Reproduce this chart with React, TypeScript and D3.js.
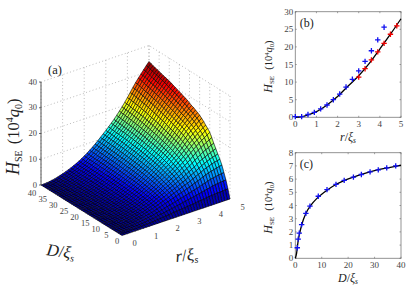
import React from "react";
import * as d3 from "d3";

const serif = "'Liberation Serif', serif";
const inkGray = "#444";

// surface (a): H_SE estimated by eye from the outline and the colour bands,
// one row per D (0..40), one column per r (0..5 in steps of 1/8)
const surfaceR = d3.range(41).map((i) => i * 0.125);
const surfaceD = d3.range(41);
const surfaceH: number[][] = [
  [0,0,0,0,0,0,0,0,0,0,0,0,0,0,0,0,0,0,0,0,0,0,0,0,0,0,0,0,0,0,0,0,0,0,0,0,0,0,0,0,0],
  [0,0,0,0,.1,.1,.1,.2,.2,.3,.4,.4,.5,.6,.7,.8,.9,1,1.1,1.2,1.4,1.5,1.6,1.7,1.8,1.9,2,2.1,2.3,2.4,2.5,2.6,2.8,2.9,3,3.1,3.2,3.2,3.3,3.4,3.4],
  [0,0,0,.1,.1,.2,.3,.3,.4,.5,.6,.8,.9,1,1.2,1.4,1.6,1.8,2,2.2,2.4,2.6,2.8,3,3.3,3.4,3.7,3.9,4.1,4.3,4.6,4.8,5,5.3,5.5,5.8,5.9,6.1,6.2,6.3,6.4],
  [0,0,0,.1,.2,.2,.3,.5,.6,.7,.9,1,1.2,1.4,1.6,1.9,2.1,2.4,2.7,3,3.2,3.5,3.8,4.1,4.4,4.7,5,5.3,5.6,5.9,6.2,6.5,6.9,7.2,7.6,7.9,8.1,8.3,8.5,8.6,8.8],
  [0,0,0,.1,.2,.3,.4,.6,.7,.9,1.1,1.3,1.5,1.7,2,2.3,2.6,3,3.3,3.7,4,4.4,4.8,5.1,5.5,5.8,6.2,6.6,6.9,7.4,7.8,8.2,8.6,9.1,9.5,9.9,10.2,10.5,10.7,11,11.2],
  [0,0,.1,.1,.2,.3,.5,.6,.8,1,1.2,1.4,1.7,2,2.3,2.6,3,3.3,3.8,4.1,4.5,4.9,5.4,5.8,6.2,6.6,7.1,7.5,7.9,8.4,8.9,9.4,9.9,10.4,11,11.4,11.8,12.2,12.5,12.7,13],
  [0,0,.1,.1,.2,.3,.5,.7,.9,1.1,1.3,1.6,1.8,2.1,2.5,2.8,3.2,3.6,4.1,4.5,4.9,5.4,5.9,6.3,6.8,7.2,7.7,8.2,8.7,9.3,9.8,10.3,10.9,11.5,12.1,12.6,13.1,13.5,13.9,14.2,14.5],
  [0,0,.1,.1,.2,.4,.5,.7,.9,1.2,1.4,1.6,2,2.3,2.6,3,3.4,3.8,4.3,4.8,5.3,5.7,6.3,6.8,7.3,7.8,8.3,8.8,9.4,10,10.6,11.2,11.8,12.5,13.2,13.8,14.3,14.8,15.2,15.7,16.1],
  [0,0,.1,.1,.3,.4,.6,.8,1,1.2,1.5,1.7,2,2.4,2.8,3.1,3.6,4,4.5,5,5.5,6.1,6.6,7.2,7.7,8.3,8.9,9.4,10.1,10.7,11.4,12.1,12.8,13.6,14.3,15,15.7,16.2,16.7,17.3,17.7],
  [0,0,.1,.1,.3,.4,.6,.8,1,1.3,1.5,1.8,2.1,2.5,2.9,3.3,3.7,4.2,4.7,5.2,5.8,6.3,6.9,7.5,8.1,8.7,9.4,10,10.7,11.4,12.1,12.9,13.7,14.6,15.5,16.3,17,17.6,18.2,18.9,19.4],
  [0,0,.1,.1,.3,.4,.6,.8,1,1.3,1.6,1.8,2.2,2.5,2.9,3.4,3.8,4.3,4.9,5.4,6,6.6,7.2,7.8,8.5,9.1,9.8,10.5,11.2,12,12.8,13.7,14.6,15.5,16.5,17.3,18.1,18.9,19.6,20.3,21],
  [0,0,.1,.1,.3,.4,.6,.8,1.1,1.3,1.6,1.9,2.3,2.6,3,3.5,3.9,4.4,5,5.6,6.2,6.8,7.4,8.1,8.8,9.4,10.1,10.8,11.6,12.5,13.3,14.2,15.1,16.2,17.2,18.1,18.9,19.7,20.5,21.3,22],
  [0,0,.1,.1,.3,.4,.7,.9,1.1,1.4,1.7,2,2.3,2.7,3.1,3.6,4.1,4.6,5.1,5.7,6.3,7,7.7,8.4,9,9.7,10.5,11.2,12,12.9,13.8,14.7,15.7,16.7,17.8,18.7,19.6,20.5,21.3,22.1,22.8],
  [0,0,.1,.1,.3,.4,.7,.9,1.1,1.4,1.7,2,2.4,2.8,3.2,3.7,4.2,4.7,5.3,5.9,6.5,7.2,7.9,8.6,9.3,10,10.8,11.6,12.4,13.3,14.2,15.2,16.2,17.3,18.4,19.4,20.3,21.2,22,22.9,23.7],
  [0,0,.1,.2,.3,.5,.7,.9,1.1,1.5,1.8,2.1,2.4,2.8,3.3,3.7,4.3,4.8,5.4,6,6.7,7.4,8.1,8.8,9.6,10.3,11.1,11.9,12.8,13.7,14.6,15.6,16.7,17.9,19,20,21,21.9,22.8,23.7,24.5],
  [0,0,.1,.2,.3,.5,.7,.9,1.2,1.5,1.8,2.1,2.5,2.9,3.4,3.8,4.4,4.9,5.6,6.2,6.9,7.6,8.3,9.1,9.8,10.6,11.4,12.2,13.1,14.1,15,16.1,17.2,18.3,19.5,20.6,21.6,22.5,23.4,24.4,25.2],
  [0,0,.1,.2,.3,.5,.7,1,1.2,1.5,1.8,2.2,2.6,3,3.4,3.9,4.5,5,5.7,6.3,7,7.7,8.5,9.3,10,10.8,11.6,12.5,13.4,14.4,15.3,16.4,17.5,18.7,19.9,21,22,23,23.9,24.8,25.7],
  [0,0,.1,.2,.3,.5,.7,1,1.2,1.5,1.9,2.2,2.6,3,3.5,4,4.6,5.1,5.8,6.4,7.1,7.9,8.7,9.5,10.2,11,11.9,12.7,13.7,14.6,15.6,16.7,17.9,19,20.3,21.4,22.4,23.4,24.4,25.3,26.2],
  [0,0,.1,.2,.3,.5,.7,1,1.2,1.6,1.9,2.2,2.7,3.1,3.6,4.1,4.6,5.2,5.9,6.5,7.3,8,8.8,9.6,10.4,11.2,12.1,12.9,13.9,14.9,15.9,17,18.2,19.4,20.6,21.8,22.8,23.9,24.9,25.8,26.7],
  [0,0,.1,.2,.3,.5,.8,1,1.3,1.6,1.9,2.3,2.7,3.1,3.6,4.1,4.7,5.3,6,6.6,7.4,8.1,8.9,9.7,10.5,11.4,12.3,13.1,14.1,15.1,16.1,17.2,18.4,19.7,20.9,22,23.1,24.2,25.2,26.1,27],
  [0,0,.1,.2,.3,.5,.8,1,1.3,1.6,2,2.3,2.7,3.1,3.7,4.2,4.8,5.4,6,6.7,7.5,8.2,9,9.8,10.7,11.5,12.4,13.3,14.3,15.3,16.3,17.5,18.7,19.9,21.2,22.3,23.4,24.5,25.5,26.6,27.5],
  [0,0,.1,.2,.3,.5,.8,1,1.3,1.6,2,2.3,2.8,3.2,3.7,4.2,4.8,5.4,6.1,6.8,7.6,8.3,9.2,10,10.9,11.7,12.6,13.5,14.6,15.6,16.6,17.8,19,20.2,21.6,22.7,23.8,24.9,26,27,28],
  [0,0,.1,.2,.3,.5,.8,1,1.3,1.7,2,2.4,2.8,3.2,3.8,4.3,4.9,5.5,6.2,6.9,7.7,8.4,9.3,10.1,11,11.9,12.8,13.7,14.8,15.8,16.9,18,19.3,20.6,21.9,23,24.2,25.3,26.4,27.4,28.4],
  [0,0,.1,.2,.4,.5,.8,1.1,1.3,1.7,2,2.4,2.8,3.3,3.8,4.3,4.9,5.6,6.3,7,7.8,8.5,9.4,10.2,11.1,12,13,13.9,14.9,16,17.1,18.3,19.5,20.9,22.2,23.3,24.5,25.6,26.7,27.8,28.7],
  [0,0,.1,.2,.4,.5,.8,1.1,1.3,1.7,2,2.4,2.8,3.3,3.8,4.4,5,5.6,6.3,7,7.8,8.6,9.5,10.4,11.2,12.1,13.1,14,15.1,16.2,17.3,18.5,19.8,21.1,22.4,23.6,24.8,25.9,27,28.1,29.1],
  [0,0,.1,.2,.4,.5,.8,1.1,1.4,1.7,2.1,2.4,2.9,3.3,3.9,4.4,5,5.7,6.4,7.1,7.9,8.7,9.6,10.5,11.4,12.3,13.2,14.2,15.3,16.4,17.5,18.7,20,21.3,22.7,23.9,25.1,26.3,27.4,28.5,29.4],
  [0,0,.1,.2,.4,.5,.8,1.1,1.4,1.7,2.1,2.5,2.9,3.4,3.9,4.5,5.1,5.7,6.5,7.2,8,8.8,9.7,10.6,11.5,12.4,13.4,14.4,15.5,16.6,17.7,19,20.3,21.6,23,24.2,25.4,26.6,27.7,28.8,29.7],
  [0,0,.1,.2,.4,.6,.8,1.1,1.4,1.7,2.1,2.5,2.9,3.4,3.9,4.5,5.1,5.8,6.5,7.2,8.1,8.9,9.8,10.7,11.6,12.5,13.5,14.5,15.6,16.8,17.9,19.2,20.5,21.9,23.3,24.5,25.7,26.9,28,29.1,30.1],
  [0,0,.1,.2,.4,.6,.8,1.1,1.4,1.8,2.1,2.5,3,3.4,4,4.5,5.2,5.8,6.6,7.3,8.1,8.9,9.9,10.8,11.7,12.6,13.6,14.6,15.8,16.9,18.1,19.4,20.7,22.1,23.5,24.8,26,27.2,28.3,29.4,30.4],
  [0,0,.1,.2,.4,.6,.8,1.1,1.4,1.8,2.1,2.5,3,3.4,4,4.5,5.2,5.8,6.6,7.4,8.2,9,10,10.9,11.8,12.7,13.8,14.8,15.9,17.1,18.3,19.6,20.9,22.3,23.8,25,26.3,27.5,28.6,29.7,30.8],
  [0,0,.1,.2,.4,.6,.8,1.1,1.4,1.8,2.2,2.5,3,3.5,4,4.6,5.3,5.9,6.7,7.4,8.3,9.1,10,11,11.9,12.9,13.9,14.9,16,17.3,18.5,19.8,21.2,22.6,24,25.3,26.6,27.8,28.9,30.1,31.1],
  [0,0,.1,.2,.4,.6,.9,1.1,1.4,1.8,2.2,2.6,3,3.5,4.1,4.6,5.3,6,6.7,7.5,8.3,9.2,10.1,11.1,12,13,14,15,16.2,17.4,18.6,20,21.4,22.8,24.2,25.5,26.8,28,29.2,30.3,31.4],
  [0,0,.1,.2,.4,.6,.9,1.1,1.4,1.8,2.2,2.6,3.1,3.5,4.1,4.7,5.3,6,6.8,7.5,8.4,9.2,10.2,11.1,12.1,13.1,14.1,15.1,16.3,17.5,18.8,20.1,21.5,23,24.4,25.7,27,28.3,29.5,30.6,31.6],
  [0,0,.1,.2,.4,.6,.9,1.2,1.4,1.8,2.2,2.6,3.1,3.6,4.1,4.7,5.4,6,6.8,7.6,8.4,9.3,10.3,11.2,12.2,13.1,14.2,15.2,16.4,17.6,18.9,20.3,21.7,23.2,24.6,26,27.2,28.5,29.7,30.9,31.8],
  [0,0,.1,.2,.4,.6,.9,1.2,1.4,1.8,2.2,2.6,3.1,3.6,4.1,4.7,5.4,6.1,6.9,7.6,8.5,9.4,10.3,11.3,12.2,13.2,14.3,15.3,16.5,17.8,19,20.4,21.9,23.3,24.8,26.2,27.5,28.7,29.9,31.1,32.1],
  [0,0,.1,.2,.4,.6,.9,1.2,1.5,1.8,2.2,2.6,3.1,3.6,4.2,4.8,5.4,6.1,6.9,7.7,8.5,9.4,10.4,11.3,12.3,13.3,14.3,15.4,16.6,17.9,19.2,20.5,22,23.5,25,26.3,27.7,29,30.1,31.3,32.4],
  [0,0,.1,.2,.4,.6,.9,1.2,1.5,1.9,2.2,2.6,3.1,3.6,4.2,4.8,5.5,6.1,6.9,7.7,8.6,9.5,10.4,11.4,12.4,13.3,14.4,15.5,16.7,18,19.3,20.6,22.1,23.7,25.2,26.6,27.9,29.2,30.4,31.6,32.6],
  [0,0,.1,.2,.4,.6,.9,1.2,1.5,1.9,2.3,2.7,3.1,3.6,4.2,4.8,5.5,6.2,7,7.8,8.7,9.5,10.5,11.5,12.5,13.4,14.5,15.6,16.8,18.1,19.4,20.8,22.3,23.8,25.4,26.8,28.1,29.4,30.6,31.8,32.9],
  [0,0,.1,.2,.4,.6,.9,1.2,1.5,1.9,2.3,2.7,3.1,3.6,4.2,4.8,5.5,6.2,7,7.8,8.7,9.6,10.6,11.6,12.6,13.5,14.6,15.7,16.9,18.2,19.5,20.9,22.4,24,25.6,27,28.4,29.7,30.9,32.1,33.1],
  [0,0,.1,.2,.4,.6,.9,1.2,1.5,1.9,2.3,2.7,3.2,3.7,4.3,4.9,5.6,6.3,7.1,7.9,8.8,9.7,10.6,11.6,12.6,13.6,14.7,15.8,17,18.3,19.6,21,22.5,24.1,25.7,27.2,28.6,29.8,31.1,32.4,33.5],
  [0,0,.1,.2,.4,.6,.9,1.2,1.5,1.9,2.3,2.7,3.2,3.7,4.3,4.9,5.6,6.3,7.1,7.9,8.8,9.7,10.7,11.7,12.7,13.7,14.8,15.9,17.1,18.4,19.7,21.1,22.6,24.2,25.8,27.3,28.7,30,31.3,32.6,33.8],
];

// panel (b)
const bCurveR = [0, 0.3, 0.5, 1, 1.5, 2, 2.5, 3, 3.5, 4, 4.5, 5];
const bCurveH = [0, 0.2, 0.5, 1.6, 3.5, 5.9, 8.9, 11.8, 15.3, 19.4, 23.6, 28];
const bBlueR = [0, 0.3, 0.6, 0.9, 1.2, 1.5, 1.8, 2.1, 2.4, 2.7, 3.0, 3.3, 3.6, 3.9, 4.2];
const bBlueH = [0.2, 0.2, 0.8, 1.4, 2.4, 3.5, 5, 6.6, 8.6, 10.8, 13.2, 15.9, 18.9, 22, 25.6];
const bRedR = [3.0, 3.3, 3.6, 3.9, 4.2, 4.5, 4.8];
const bRedH = [11.4, 13.8, 16.3, 18.6, 21, 23.6, 26];

// panel (c)
const cCurveD = [0, 0.5, 1, 2, 3, 4, 6, 8, 10, 12, 15, 18, 22, 26, 30, 35, 40];
const cCurveH = [0, 0.4, 1.2, 2.2, 2.9, 3.4, 4.05, 4.5, 4.85, 5.15, 5.55, 5.85, 6.15, 6.42, 6.65, 6.85, 7.05];
const cBlueD = [0.76, 1.1, 1.5, 2.4, 4, 5.55, 8.7, 12, 15.4, 18.5, 22, 25, 28.3, 31.4, 34.6, 38];
const cBlueH = [0.8, 1.45, 1.9, 2.55, 3.4, 3.95, 4.7, 5.2, 5.6, 5.9, 6.15, 6.35, 6.55, 6.7, 6.85, 7.0];

const zTicks = [0, 10, 20, 30, 40];
const rTicks = [0, 1, 2, 3, 4, 5];
const dTicks = [0, 5, 10, 15, 20, 25, 30, 35, 40];

// oblique projection of the 3D box
const xFromR = d3.scaleLinear().domain([0, 5]).range([122, 230]);
const xFromD = d3.scaleLinear().domain([0, 40]).range([0, -81]);
const yFromR = d3.scaleLinear().domain([0, 5]).range([235.5, 199]);
const yFromD = d3.scaleLinear().domain([0, 40]).range([0, -50.5]);
const yFromZ = d3.scaleLinear().domain([0, 40]).range([0, -103]);
const project = (r: number, D: number, z: number): [number, number] => [
  xFromR(r) + xFromD(D),
  yFromR(r) + yFromD(D) + yFromZ(z),
];

const jet = d3
  .scaleLinear<string>()
  .domain([0, 0.125, 0.375, 0.625, 0.875, 1].map((t) => t * 33.8))
  .range(["#00008f", "#0000ff", "#00ffff", "#ffff00", "#ff0000", "#800000"]);

const line3d = d3.line();

const Cross = ({ x, y, color }: { x: number; y: number; color: string }) => (
  <path d={`M${x - 2.7},${y}H${x + 2.7}M${x},${y - 2.7}V${y + 2.7}`} stroke={color} strokeWidth={1.3} fill="none" />
);

const Surface = () => {
  const cells: React.ReactNode[] = [];
  for (let i = surfaceD.length - 2; i >= 0; i--) {
    for (let j = surfaceR.length - 2; j >= 0; j--) {
      const a = surfaceH[i][j];
      const b = surfaceH[i][j + 1];
      const c = surfaceH[i + 1][j + 1];
      const d = surfaceH[i + 1][j];
      const pts = [
        project(surfaceR[j], surfaceD[i], a),
        project(surfaceR[j + 1], surfaceD[i], b),
        project(surfaceR[j + 1], surfaceD[i + 1], c),
        project(surfaceR[j], surfaceD[i + 1], d),
      ];
      cells.push(
        <path
          key={`${i}-${j}`}
          d={line3d(pts) + "Z"}
          fill={jet((a + b + c + d) / 4)}
          stroke="#000"
          strokeWidth={0.7}
          strokeOpacity={0.85}
        />
      );
    }
  }
  return <g>{cells}</g>;
};

const Panel3D = () => {
  const grid = { stroke: "#aaa", strokeWidth: 0.8, strokeDasharray: "1 2.4", fill: "none" };
  return (
    <g fontFamily={serif}>
      {rTicks.map((r) => (
        <path key={r} d={line3d([project(r, 40, 0), project(r, 40, 40)]) as string} {...grid} />
      ))}
      {dTicks.map((D) => (
        <path key={D} d={line3d([project(5, D, 0), project(5, D, 40)]) as string} {...grid} />
      ))}
      {zTicks.map((z) => (
        <path key={z} d={line3d([project(0, 40, z), project(5, 40, z), project(5, 0, z)]) as string} {...grid} />
      ))}
      <Surface />
      <path d={line3d([project(0, 40, 0), project(0, 40, 40)]) as string} stroke={inkGray} strokeWidth={0.9} fill="none" />
      {zTicks.map((z) => {
        const [x, y] = project(0, 40, z);
        return (
          <g key={z}>
            <line x1={x - 2} x2={x} y1={y} y2={y} stroke={inkGray} strokeWidth={0.8} />
            <text x={x - 4} y={y + 2.5} fontSize={8.5} textAnchor="end" fill={inkGray}>{z}</text>
          </g>
        );
      })}
      {dTicks.map((D) => {
        const [x, y] = project(0, D, 0);
        return (
          <text key={D} x={x - 5 - (4 * D) / 40} y={y + 8.5 + (2.5 * D) / 40} fontSize={8.5} textAnchor="middle" fill={inkGray}>{D}</text>
        );
      })}
      {rTicks.map((r) => {
        const [x, y] = project(r, 0, 0);
        return (
          <text key={r} x={x + 12.5} y={y + 10.5} fontSize={8.5} textAnchor="middle" fill={inkGray}>{r}</text>
        );
      })}
      <text x={48} y={74} fontSize={12.5} fill="#222">(a)</text>
      <text transform="translate(19,175) rotate(-90)" fontSize={18} fill="#222">
        <tspan fontStyle="italic">H</tspan>
        <tspan fontSize={10} dy={3}>SE</tspan>
        <tspan dy={-3} dx={6} fontSize={16.5}>(10</tspan>
        <tspan fontSize={10} dy={-6}>4</tspan>
        <tspan fontSize={16.5} dy={6} fontStyle="italic">q</tspan>
        <tspan fontSize={10} dy={3}>0</tspan>
        <tspan fontSize={16.5} dy={-3}>)</tspan>
      </text>
      <text transform="translate(46,255) rotate(8)" fontSize={17} fill="#222">
        <tspan fontStyle="italic">D</tspan>
        <tspan>/</tspan>
        <tspan fontStyle="italic">ξ</tspan>
        <tspan fontSize={10} dy={3} fontStyle="italic">s</tspan>
      </text>
      <text transform="translate(176,262) rotate(-6)" fontSize={17} fill="#222">
        <tspan fontStyle="italic">r</tspan>
        <tspan>/</tspan>
        <tspan fontStyle="italic">ξ</tspan>
        <tspan fontSize={10} dy={3} fontStyle="italic">s</tspan>
      </text>
    </g>
  );
};

type SideProps = {
  top: number;
  xMax: number;
  yMax: number;
  xTicks: number[];
  yTicks: number[];
  tag: string;
  xName: string;
  curveX: number[];
  curveY: number[];
  sets: { xs: number[]; ys: number[]; color: string }[];
};

const SidePanel = ({ top, xMax, yMax, xTicks, yTicks, tag, xName, curveX, curveY, sets }: SideProps) => {
  const x = d3.scaleLinear().domain([0, xMax]).range([295.3, 401]);
  const y = d3.scaleLinear().domain([0, yMax]).range([top + 105.6, top]);
  const curve = d3
    .line<number>()
    .x((d) => x(d))
    .y((_, i) => y(curveY[i]))
    .curve(d3.curveMonotoneX);
  const bottom = y(0);
  return (
    <g fontFamily={serif}>
      <rect x={x(0)} y={top} width={x(xMax) - x(0)} height={bottom - top} fill="none" stroke="#888" strokeWidth={0.9} />
      {xTicks.map((t) => (
        <g key={t}>
          <path d={`M${x(t)},${bottom}v-1.5M${x(t)},${top}v1.5`} stroke="#666" strokeWidth={0.6} />
          <text x={x(t)} y={bottom + 10} fontSize={9} textAnchor="middle" fill={inkGray}>{t}</text>
        </g>
      ))}
      {yTicks.map((t) => (
        <g key={t}>
          <path d={`M${x(0)},${y(t)}h1.5M${x(xMax)},${y(t)}h-1.5`} stroke="#666" strokeWidth={0.6} />
          <text x={x(0) - 2} y={y(t) + 3} fontSize={9} textAnchor="end" fill={inkGray}>{t}</text>
        </g>
      ))}
      <path d={curve(curveX) as string} fill="none" stroke="#000" strokeWidth={1.3} />
      {sets.map((s) =>
        s.xs.map((v, i) => <Cross key={`${s.color}${i}`} x={x(v)} y={y(s.ys[i])} color={s.color} />)
      )}
      <text x={x(0) + 4.5} y={top + 15} fontSize={12} fill="#222">{tag}</text>
      <text transform={`translate(272,${top + 81}) rotate(-90)`} fontSize={12} fill="#222">
        <tspan fontStyle="italic">H</tspan>
        <tspan fontSize={7} dy={1.5}>SE</tspan>
        <tspan dy={-1.5} dx={6} fontSize={10.5}>(10</tspan>
        <tspan fontSize={6.5} dy={-3}>4</tspan>
        <tspan fontSize={10.5} dy={3} fontStyle="italic">q</tspan>
        <tspan fontSize={6.5} dy={1.5}>0</tspan>
        <tspan fontSize={10.5} dy={-1.5}>)</tspan>
      </text>
      <text x={348} y={bottom + 24} fontSize={12} textAnchor="middle" fill="#222">
        <tspan fontStyle="italic">{xName}</tspan>
        <tspan>/</tspan>
        <tspan fontStyle="italic">ξ</tspan>
        <tspan fontSize={7.5} dy={2} fontStyle="italic">s</tspan>
      </text>
    </g>
  );
};

export default function App() {
  return (
    <svg width={415} height={287} style={{ position: "absolute", left: 0, top: 0 }}>
      <rect width={415} height={287} fill="#fff" />
      <Panel3D />
      <SidePanel
        top={11.7}
        xMax={5}
        yMax={30}
        xTicks={rTicks}
        yTicks={[0, 5, 10, 15, 20, 25, 30]}
        tag="(b)"
        xName="r"
        curveX={bCurveR}
        curveY={bCurveH}
        sets={[
          { xs: bRedR, ys: bRedH, color: "#f00000" },
          { xs: bBlueR, ys: bBlueH, color: "#1010f0" },
        ]}
      />
      <SidePanel
        top={152.7}
        xMax={40}
        yMax={8}
        xTicks={[0, 10, 20, 30, 40]}
        yTicks={[0, 1, 2, 3, 4, 5, 6, 7, 8]}
        tag="(c)"
        xName="D"
        curveX={cCurveD}
        curveY={cCurveH}
        sets={[{ xs: cBlueD, ys: cBlueH, color: "#1010f0" }]}
      />
    </svg>
  );
}
